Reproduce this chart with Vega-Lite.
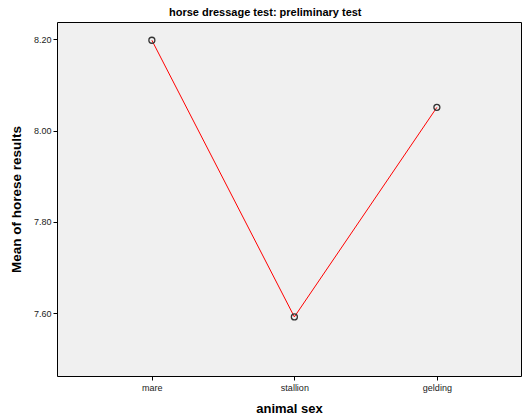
{
  "$schema": "https://vega.github.io/schema/vega-lite/v6.json",
  "width": 464,
  "height": 354,
  "autosize": {"type": "none"},
  "padding": {"left": 57, "top": 22, "right": 2, "bottom": 41},
  "background": "white",
  "config": {
    "font": "Liberation Sans",
    "view": {"fill": "#f0f0f0", "stroke": "#000000", "strokeWidth": 1}
  },
  "title": {
    "text": "horse dressage test: preliminary test",
    "fontSize": 11,
    "fontWeight": "bold",
    "color": "#000000",
    "anchor": "middle",
    "frame": "bounds",
    "offset": 4
  },
  "data": {
    "values": [
      {"sex": "mare", "mean": 8.198},
      {"sex": "stallion", "mean": 7.592},
      {"sex": "gelding", "mean": 8.051}
    ]
  },
  "encoding": {
    "x": {
      "field": "sex",
      "type": "nominal",
      "sort": ["mare", "stallion", "gelding"],
      "scale": {"type": "point", "padding": 0.628, "align": 0.53},
      "axis": {
        "title": "animal sex",
        "titleFontSize": 13,
        "titleFontWeight": "bold",
        "titleColor": "#000000",
        "titlePadding": 10,
        "labelAngle": 0,
        "labelFontSize": 9,
        "labelColor": "#222222",
        "labelPadding": 3,
        "tickSize": 4,
        "tickColor": "#000000",
        "domain": false,
        "grid": false
      }
    },
    "y": {
      "field": "mean",
      "type": "quantitative",
      "scale": {"domain": [7.4625, 8.238], "zero": false, "nice": false},
      "axis": {
        "title": "Mean of horese results",
        "titleFontSize": 13.5,
        "titleFontWeight": "bold",
        "titleColor": "#000000",
        "titlePadding": 10,
        "values": [7.6, 7.8, 8.0, 8.2],
        "format": ".2f",
        "labelFontSize": 9,
        "labelColor": "#222222",
        "labelPadding": 2,
        "tickSize": 4,
        "tickColor": "#000000",
        "domain": false,
        "grid": false
      }
    }
  },
  "layer": [
    {"mark": {"type": "line", "color": "#ff0000", "strokeWidth": 1}},
    {"mark": {"type": "point", "shape": "circle", "filled": false, "stroke": "#333333", "strokeWidth": 1.3, "size": 36, "opacity": 1}}
  ]
}
